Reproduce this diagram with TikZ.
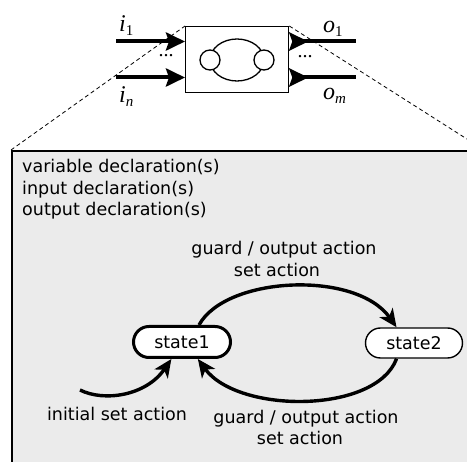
\documentclass[tikz,border=0pt]{standalone}
\usepackage{fontspec}
\setmainfont{DejaVu Sans}
\newfontfamily\tms{Liberation Serif}
\usetikzlibrary{arrows.meta,shapes.misc,shapes.geometric}
\definecolor{panelgray}{HTML}{EBEBEB}
\begin{document}
\begin{tikzpicture}[x=1pt,y=-1pt,
  lbl/.style={font=\fontsize{17.5}{20}\selectfont, inner sep=0pt},
  mathlbl/.style={font=\tms\fontsize{24}{24}\selectfont\itshape, inner sep=0pt, anchor=base west},
  iowire/.style={line width=4pt},
  ioin/.style={iowire, -{Stealth[length=19pt,width=18pt,inset=3pt]}},
  ioout/.style={iowire, {Stealth[reversed,length=19pt,width=18pt,inset=3pt]}-},
  zoomline/.style={dashed, dash pattern=on 4pt off 3pt, line width=0.8pt},
  statebox/.style={rounded rectangle, draw, fill=white, font=\fontsize{17.5}{20}\selectfont, minimum width=97pt, inner sep=0pt},
  trans/.style={line width=3.4pt, -{Stealth[length=18pt,width=16pt,inset=5pt]}}
]
\useasboundingbox (0,0) rectangle (467,462);
\clip (0,0) rectangle (467,462);

% big panel
\node[draw, line width=2.2pt, fill=panelgray, minimum width=471pt, minimum height=330pt, anchor=north west, inner sep=0pt] (panel) at (11,150) {};

% small component box
\node[draw, line width=1.3pt, fill=white, minimum width=103pt, minimum height=66pt, anchor=north west, inner sep=0pt] (comp) at (185,26) {};

% zoom lines
\draw[zoomline] (panel.north west) -- (comp.north west);
\draw[zoomline] (comp.north east) -- (panel.north east);

% inner picture
\node[draw, line width=1.3pt, ellipse, minimum width=54pt, minimum height=42pt, inner sep=0pt] (inner) at (237,60) {};
\node[draw, line width=1.3pt, fill=white, circle, minimum size=20pt, inner sep=0pt] (cl) at (210,60) {};
\node[draw, line width=1.3pt, fill=white, circle, minimum size=20pt, inner sep=0pt] (cr) at (264,60) {};

% io wires
\coordinate (in1) at (116,41.5);
\coordinate (inn) at (116,77.5);
\coordinate (out1) at (356,41.5);
\coordinate (outm) at (356,77.5);
\draw[ioin] (in1) -- (comp.west |- in1);
\draw[ioin] (inn) -- (comp.west |- inn);
\draw[ioout] (comp.east |- out1) -- (out1);
\draw[ioout] (comp.east |- outm) -- (outm);

\node[mathlbl] (li1) at (119,32) {i\raisebox{-4pt}{\upshape\fontsize{15}{15}\selectfont 1}};
\node[mathlbl] (lin) at (119,103) {i\raisebox{-4pt}{\fontsize{15}{15}\selectfont n}};
\node[mathlbl] (lo1) at (323,33) {o\raisebox{-4pt}{\upshape\fontsize{15}{15}\selectfont 1}};
\node[mathlbl] (lom) at (323,100) {o\raisebox{-4pt}{\fontsize{15}{15}\selectfont m}};
\node[font=\tms\fontsize{20}{20}\selectfont, inner sep=0pt] (dl) at (166,56) {...};
\node[font=\tms\fontsize{20}{20}\selectfont, inner sep=0pt] (dr) at (305,57) {...};

% declarations
\node[lbl, anchor=base west] (d1) at (22,173) {variable declaration(s)};
\node[lbl, anchor=base west] (d2) at (22,195) {input declaration(s)};
\node[lbl, anchor=base west] (d3) at (22,216) {output declaration(s)};

% states
\node[statebox, line width=3pt, minimum height=31pt] (s1) at (182,342) {state1};
\node[statebox, line width=1.4pt, minimum height=30pt] (s2) at (414,343) {state2};

% transitions
\draw[trans] (s1.45) .. controls (226,276) and (356,270) .. (s2.138);
\draw[trans] (s2.222) .. controls (376,414) and (238,414) .. (s1.-47);
\coordinate (init) at (80,390);
\draw[trans] (init) .. controls (104,402) and (146,396) .. (s1.-122);

% transition labels
\node[lbl, anchor=base] (g1) at (284,255) {guard / output action};
\node[lbl, anchor=base] (a1) at (277,277) {set action};
\node[lbl, anchor=base] (g2) at (306,424) {guard / output action};
\node[lbl, anchor=base] (a2) at (300,445) {set action};
\node[lbl, anchor=base] (ini) at (117,421) {initial set action};
\end{tikzpicture}
\end{document}
